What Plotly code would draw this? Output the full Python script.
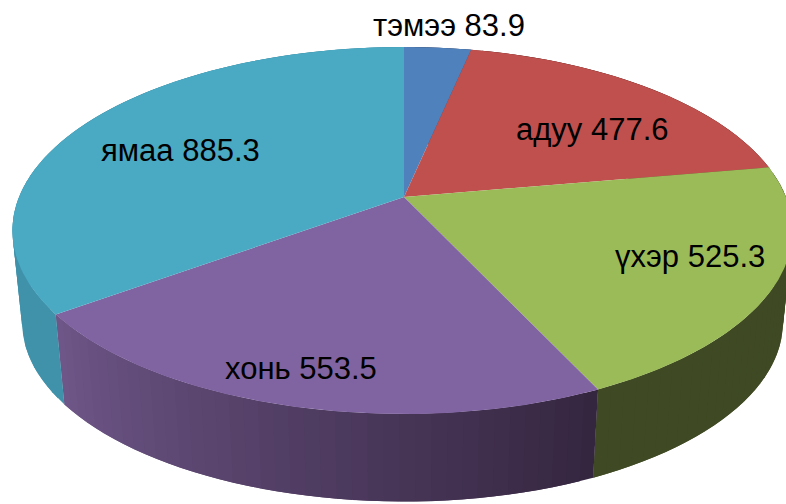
import numpy as np
import plotly.graph_objects as go

categories = ["тэмээ", "адуу", "үхэр", "хонь", "ямаа"]
values = [83.9, 477.6, 525.3, 553.5, 885.3]
top_colors = ["#4f81bd", "#c0504d", "#9bbb59", "#8064a2", "#4aa9c3"]
side_start = [(62, 83, 120), (120, 50, 48), (63, 74, 36), (53, 38, 64), (64, 146, 170)]
side_end = [(62, 83, 120), (120, 50, 48), (63, 74, 36), (110, 86, 136), (64, 146, 170)]

WIDTH, HEIGHT = 786, 504
CX, CY = 404, 197
AX_R, AX_L, BY, P = 382, 385, 177.4, 0.1826
DEPTH, SHRINK = 93, 0.975


def project(theta):
    u, v = np.sin(theta), -np.cos(theta)
    w = 1 - P * v
    return np.where(u >= 0, AX_R, AX_L) * u / w, BY * v / w


def poly(x, y, color):
    return go.Scatter(x=x, y=y, mode="lines", fill="toself", fillcolor=color,
                      line=dict(color=color, width=0), hoverinfo="skip", showlegend=False)


edges = np.radians(np.concatenate([[0], np.cumsum(values)]) / sum(values) * 360)
traces = []

# side wall: short overlapping bands, each overpainted by the next, so no seams show
for i in range(len(values)):
    n = max(2, int(np.ceil((edges[i + 1] - edges[i]) / np.radians(2))))
    th = np.linspace(edges[i], edges[i + 1], n + 1)
    for j in range(n):
        seg = np.linspace(th[j], th[min(j + 2, n)], 6)
        dx, dy = project(seg)
        t = j / max(n - 1, 1)
        c = [round(a + (b - a) * t) for a, b in zip(side_start[i], side_end[i])]
        col = f"rgb({c[0]},{c[1]},{c[2]})"
        xs = np.concatenate([CX + dx, (CX + SHRINK * dx)[::-1]])
        ys = np.concatenate([CY + dy, (CY + DEPTH + SHRINK * dy)[::-1]])
        traces.append(poly(xs, ys, col))

# top face
for i in range(len(values)):
    th = np.linspace(edges[i], edges[i + 1], 120)
    dx, dy = project(th)
    traces.append(poly(np.concatenate([[CX], CX + dx, [CX]]),
                       np.concatenate([[CY], CY + dy, [CY]]), top_colors[i]))

fig = go.Figure(traces)

label_pos = [(449, 25), (592, 129), (690, 256), (301, 368), (180, 150)]
for name, val, (lx, ly) in zip(categories, values, label_pos):
    fig.add_annotation(x=lx, y=ly, text=f"{name} {val}", showarrow=False, xref="x", yref="y",
                       font=dict(family="Liberation Sans, Arial, sans-serif", size=31, color="#000"))

fig.update_layout(width=WIDTH, height=HEIGHT, margin=dict(l=0, r=0, t=0, b=0),
                  paper_bgcolor="white", plot_bgcolor="white", showlegend=False,
                  xaxis=dict(range=[0, WIDTH], visible=False, fixedrange=True),
                  yaxis=dict(range=[HEIGHT, 0], visible=False, fixedrange=True))
fig.write_html("out.html", config={"displayModeBar": False}, default_width=WIDTH, default_height=HEIGHT,
               full_html=True, include_plotlyjs=True,
               post_script="document.body.style.margin='0';")
